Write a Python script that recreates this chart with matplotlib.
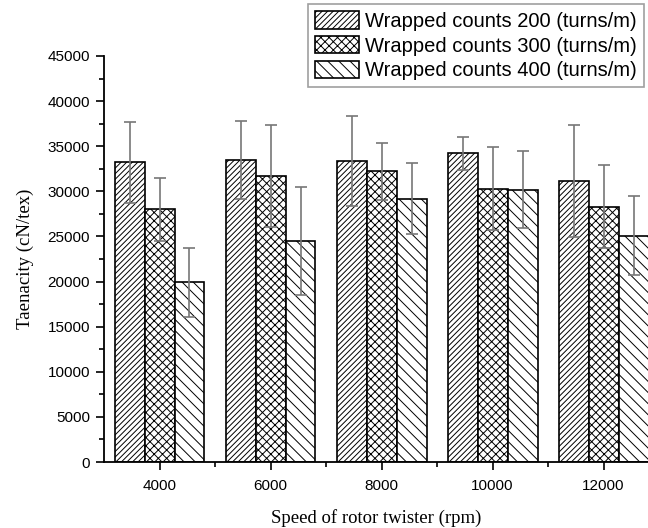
import matplotlib
matplotlib.use("Agg")
import matplotlib.pyplot as plt
import numpy as np
from matplotlib.ticker import MultipleLocator, FixedLocator

speeds = ["4000", "6000", "8000", "10000", "12000"]
series_labels = [
    "Wrapped counts 200 (turns/m)",
    "Wrapped counts 300 (turns/m)",
    "Wrapped counts 400 (turns/m)",
]
tenacity_200 = [33200, 33500, 33400, 34200, 31100]
tenacity_300 = [28000, 31700, 32200, 30300, 28300]
tenacity_400 = [19900, 24500, 29200, 30200, 25100]
err_200 = [4500, 4300, 5000, 1800, 6200]
err_300 = [3500, 5600, 3200, 4600, 4600]
err_400 = [3800, 6000, 3900, 4300, 4400]

values = [tenacity_200, tenacity_300, tenacity_400]
errors = [err_200, err_300, err_400]
hatches = ["//////", "xxxx", "\\\\\\"]

plt.rcParams["hatch.linewidth"] = 0.7
fig = plt.figure(figsize=(6.48, 5.28), dpi=100)
ax = fig.add_axes([0.1605, 0.125, 0.8395, 0.769])

x = np.arange(len(speeds))
width = 0.27
for i, (vals, errs, hatch, label) in enumerate(zip(values, errors, hatches, series_labels)):
    ax.bar(x + (i - 1) * width, vals, width, facecolor="white", edgecolor="black",
           hatch=hatch, linewidth=1.2, label=label, zorder=2)
    ax.errorbar(x + (i - 1) * width, vals, yerr=errs, fmt="none", ecolor="#777777",
                elinewidth=1.2, capsize=4, capthick=1.2, zorder=3)

ax.set_xlim(-0.5, 4.4)
ax.set_ylim(0, 45000)
ax.set_xticks(x)
ax.set_xticklabels(speeds)
ax.xaxis.set_minor_locator(FixedLocator(x[:-1] + 0.5))
ax.yaxis.set_major_locator(MultipleLocator(5000))
ax.yaxis.set_minor_locator(MultipleLocator(2500))
ax.tick_params(axis="both", which="both", direction="out", labelsize=11)
ax.tick_params(axis="both", which="major", length=6, width=1.2)
ax.tick_params(axis="both", which="minor", length=3.5, width=1.2)
ax.tick_params(axis="x", pad=6)
ax.tick_params(axis="y", pad=4)
for lbl in ax.get_xticklabels() + ax.get_yticklabels():
    lbl.set_family("Liberation Sans")

ax.spines["top"].set_visible(False)
ax.spines["right"].set_visible(False)
ax.spines["left"].set_linewidth(1.3)
ax.spines["bottom"].set_linewidth(1.3)

ax.set_xlabel("Speed of rotor twister (rpm)", family="Liberation Serif", fontsize=13.5, labelpad=12)
ax.set_ylabel("Taenacity (cN/tex)", family="Liberation Serif", fontsize=13.5, labelpad=10)

leg = ax.legend(loc="upper right", bbox_to_anchor=(1.0, 1.137), frameon=True, fancybox=False,
                edgecolor="#888888", prop={"family": "Liberation Sans", "size": 14.5},
                handlelength=2.2, handleheight=0.95, labelspacing=0.25, borderpad=0.35,
                handletextpad=0.3, borderaxespad=0.2)
leg.get_frame().set_linewidth(1.2)

fig.savefig("out.png", dpi=100)
